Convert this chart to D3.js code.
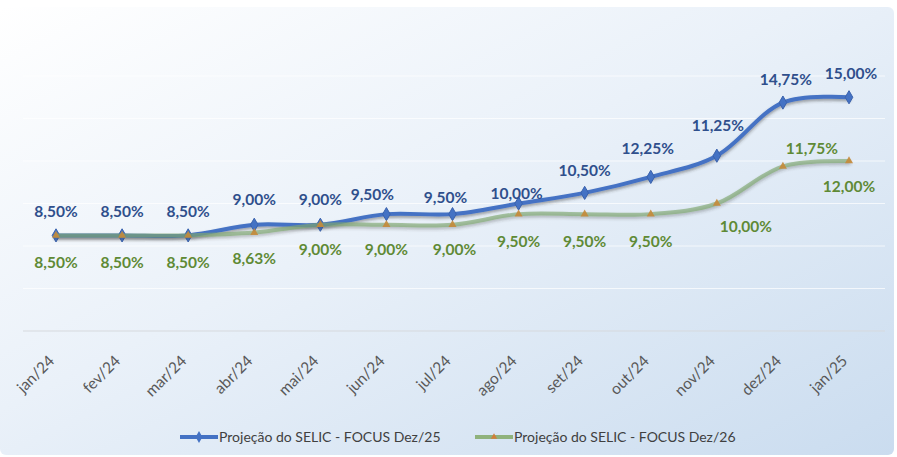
<!DOCTYPE html>
<html>
<head>
<meta charset="utf-8">
<script src="https://cdn.jsdelivr.net/npm/d3@7"></script>
<style>
  html, body { margin: 0; padding: 0; background: #fff; }
  #chart { width: 897px; height: 457px; }
</style>
</head>
<body>
<div id="chart"></div>
<script>
// SELIC projection — two smoothed lines with data labels

var months = ["jan/24", "fev/24", "mar/24", "abr/24", "mai/24", "jun/24", "jul/24",
              "ago/24", "set/24", "out/24", "nov/24", "dez/24", "jan/25"];

var focus25 = [8.50, 8.50, 8.50, 9.00, 9.00, 9.50, 9.50, 10.00, 10.50, 11.25, 12.25, 14.75, 15.00];
var focus26 = [8.50, 8.50, 8.50, 8.63, 9.00, 9.00, 9.00, 9.50, 9.50, 9.50, 10.00, 11.75, 12.00];

// label text as printed on the chart
var labels25 = ["8,50%", "8,50%", "8,50%", "9,00%", "9,00%", "9,50%", "9,50%",
                "10,00%", "10,50%", "12,25%", "11,25%", "14,75%", "15,00%"];
var labels26 = ["8,50%", "8,50%", "8,50%", "8,63%", "9,00%", "9,00%", "9,00%",
                "9,50%", "9,50%", "9,50%", "10,00%", "11,75%", "12,00%"];

var seriesNames = ["Projeção do SELIC - FOCUS Dez/25", "Projeção do SELIC - FOCUS Dez/26"];
var yTicks = [6, 8, 10, 12, 14, 16];

// label nudges [dx, dy] relative to each point
var offsets25 = [[0,-24],[0,-24],[0,-24],[0,-25],[0,-25],[-14,-20],[-7,-17],
                 [-2,-10],[0,-22],[-3,-28],[1,-30],[3,-23],[2,-24]];
var offsets26 = [[0,27],[0,27],[0,27],[0,26],[0,25],[0,25],[2,25],
                 [0,27],[0,27],[0,27],[29,23],[29,-18],[0,26]];

var W = 897, H = 457;
var svg = d3.select("#chart").append("svg")
    .attr("width", W).attr("height", H)
    .style("font-family", "Lato, 'Open Sans', sans-serif");

var defs = svg.append("defs");
var grad = defs.append("linearGradient")
    .attr("id", "bg").attr("x1", 0).attr("y1", 0).attr("x2", 1).attr("y2", 1);
grad.append("stop").attr("offset", "0%").attr("stop-color", "#ffffff");
grad.append("stop").attr("offset", "45%").attr("stop-color", "#eaf1f9");
grad.append("stop").attr("offset", "100%").attr("stop-color", "#cadcef");

var shadow = defs.append("filter").attr("id", "shadow")
    .attr("x", "-5%").attr("y", "-20%").attr("width", "110%").attr("height", "160%");
shadow.append("feDropShadow")
    .attr("dx", 0).attr("dy", 2).attr("stdDeviation", 1.5)
    .attr("flood-color", "#333").attr("flood-opacity", 0.45);

svg.append("rect")
    .attr("x", 0).attr("y", 7).attr("width", 894).attr("height", 448)
    .attr("rx", 6)
    .attr("fill", "url(#bg)");

// --- Scales ---
var x = d3.scalePoint()
    .domain(months)
    .range([56, 849]);

var y = d3.scaleLinear()
    .domain([4, 18])
    .range([331, 33.5]);

// --- Grid ---
svg.append("g")
    .selectAll("line")
    .data(yTicks)
    .join("line")
    .attr("x1", 23).attr("x2", 885)
    .attr("y1", function(d) { return y(d); })
    .attr("y2", function(d) { return y(d); })
    .attr("stroke", "#ffffff")
    .attr("stroke-opacity", 0.7)
    .attr("stroke-width", 1);

// --- X axis ---
var xAxis = svg.append("g")
    .attr("transform", "translate(0," + y(4) + ")")
    .call(d3.axisBottom(x).tickSize(0).tickPadding(0));
xAxis.select(".domain")
    .attr("d", "M23,0H885")
    .attr("stroke", "#d6d9dd");
xAxis.selectAll("text")
    .attr("text-anchor", "end")
    .attr("fill", "#595959")
    .style("font-size", "15.5px")
    .style("font-family", "Lato, sans-serif")
    .attr("dy", "0.35em")
    .attr("transform", "translate(-5,27) rotate(-45)");

// --- Lines ---
var line = d3.line()
    .curve(d3.curveCatmullRom.alpha(0.5))
    .x(function(d, i) { return x(months[i]); })
    .y(function(d) { return y(d); });

svg.append("path")
    .datum(focus25)
    .attr("fill", "none")
    .attr("stroke", "#4472c4")
    .attr("stroke-width", 4)
    .attr("stroke-linecap", "round")
    .attr("filter", "url(#shadow)")
    .attr("d", line);

svg.append("g")
    .selectAll("path")
    .data(focus25)
    .join("path")
    .attr("d", d3.symbol().type(d3.symbolDiamond).size(50))
    .attr("transform", function(d, i) { return "translate(" + x(months[i]) + "," + y(d) + ")"; })
    .attr("fill", "#4472c4")
    .attr("stroke", "#3a62ad")
    .attr("stroke-width", 1);

svg.append("path")
    .datum(focus26)
    .attr("fill", "none")
    .attr("stroke", "#7fa872")
    .attr("stroke-opacity", 0.65)
    .attr("stroke-width", 4)
    .attr("stroke-linecap", "round")
    .attr("filter", "url(#shadow)")
    .attr("d", line);

svg.append("g")
    .selectAll("path")
    .data(focus26)
    .join("path")
    .attr("d", d3.symbol().type(d3.symbolTriangle).size(28))
    .attr("transform", function(d, i) { return "translate(" + x(months[i]) + "," + y(d) + ")"; })
    .attr("fill", "#c58a3a")
    .attr("fill-opacity", 0.9);

// --- Data labels ---
svg.append("g")
    .selectAll("text")
    .data(focus25)
    .join("text")
    .attr("x", function(d, i) { return x(months[i]) + offsets25[i][0]; })
    .attr("y", function(d, i) { return y(d) + offsets25[i][1]; })
    .attr("dy", "0.35em")
    .attr("text-anchor", "middle")
    .attr("fill", "#2f4f8c")
    .style("font-size", "15.5px")
    .style("font-weight", "bold")
    .text(function(d, i) { return labels25[i]; });

svg.append("g")
    .selectAll("text")
    .data(focus26)
    .join("text")
    .attr("x", function(d, i) { return x(months[i]) + offsets26[i][0]; })
    .attr("y", function(d, i) { return y(d) + offsets26[i][1]; })
    .attr("dy", "0.35em")
    .attr("text-anchor", "middle")
    .attr("fill", "#5f8a35")
    .style("font-size", "15.5px")
    .style("font-weight", "bold")
    .text(function(d, i) { return labels26[i]; });

// --- Legend ---
var legend = svg.append("g").attr("transform", "translate(0,437)");
var legendItems = [
    { x: 180, name: seriesNames[0], color: "#4472c4", symbol: d3.symbolDiamond, size: 40, mark: "#4472c4" },
    { x: 475, name: seriesNames[1], color: "#8fb27c", symbol: d3.symbolTriangle, size: 18, mark: "#d07f3a" }
];
legendItems.forEach(function(it) {
    legend.append("line")
        .attr("x1", it.x).attr("x2", it.x + 38)
        .attr("stroke", it.color).attr("stroke-width", 4);
    legend.append("path")
        .attr("d", d3.symbol().type(it.symbol).size(it.size))
        .attr("transform", "translate(" + (it.x + 19) + ",0)")
        .attr("fill", it.mark);
    legend.append("text")
        .attr("x", it.x + 39)
        .attr("dy", "0.35em")
        .attr("fill", "#404040")
        .style("font-size", "14px")
        .text(it.name);
});
</script>
</body>
</html>
